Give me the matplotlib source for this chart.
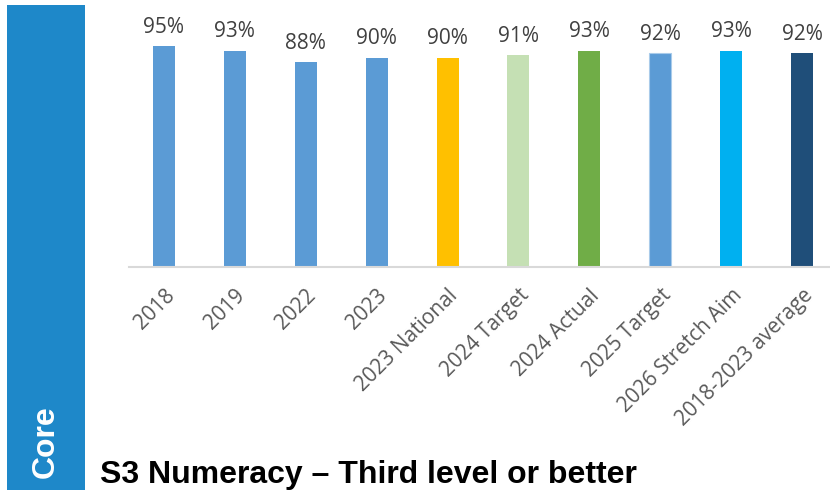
import matplotlib
matplotlib.use("Agg")
import matplotlib.pyplot as plt
from matplotlib.patches import Rectangle

categories = ["2018", "2019", "2022", "2023", "2023 National", "2024 Target",
              "2024 Actual", "2025 Target", "2026 Stretch Aim", "2018-2023 average"]
values = [95, 93, 88, 90, 90, 91, 93, 92, 93, 92]
bar_colors = ["#5B9BD5", "#5B9BD5", "#5B9BD5", "#5B9BD5", "#FFC000", "#C5E0B4",
              "#70AD47", "#5B9BD5", "#00B0F0", "#1F4E79"]
edge_colors = ["none"] * 7 + ["#A9CBEA"] + ["none"] * 2
title = "S3 Numeracy \u2013 Third level or better"
side_label = "Core"

W, H = 830, 490
fig = plt.figure(figsize=(W / 100, H / 100), dpi=100)

# blue strip on the left
fig.patches.append(Rectangle((7 / W, 0), 78 / W, 485 / H, transform=fig.transFigure,
                             facecolor="#1E88C9", edgecolor="none", zorder=0))
fig.text(46 / W, 48 / H, side_label, rotation=90, color="white", fontsize=23,
         fontweight="bold", family="Liberation Sans", ha="center", va="center")

ax = fig.add_axes([128.5 / W, 223 / H, 709 / W, 267 / H])
x = range(len(categories))
bars = ax.bar(x, values, width=0.31, color=bar_colors, edgecolor=edge_colors,
              linewidth=0.8, zorder=2)
ax.set_xlim(-0.5, len(categories) - 0.5)
ax.set_ylim(0, 267 / 2.326)

for b, v in zip(bars, values):
    ax.annotate(f"{v}%", (b.get_x() + b.get_width() / 2, v), xytext=(0, 6),
                textcoords="offset points", ha="center", va="bottom",
                fontsize=15, family="Open Sans", color="#404040")

for side in ["top", "right", "left"]:
    ax.spines[side].set_visible(False)
ax.spines["bottom"].set_color("#D9D9D9")
ax.spines["bottom"].set_linewidth(1.5)
ax.set_yticks([])
ax.set_xticks(list(x))
ax.set_xticklabels(categories, rotation=45, ha="right", rotation_mode="anchor",
                   fontsize=15, family="Open Sans", color="#595959")
ax.tick_params(axis="x", length=0, pad=13)

fig.text(100 / W, 7 / H, title, fontsize=23, fontweight="bold",
         family="Liberation Sans", color="black", ha="left", va="baseline")

fig.savefig("out.png", dpi=100)
